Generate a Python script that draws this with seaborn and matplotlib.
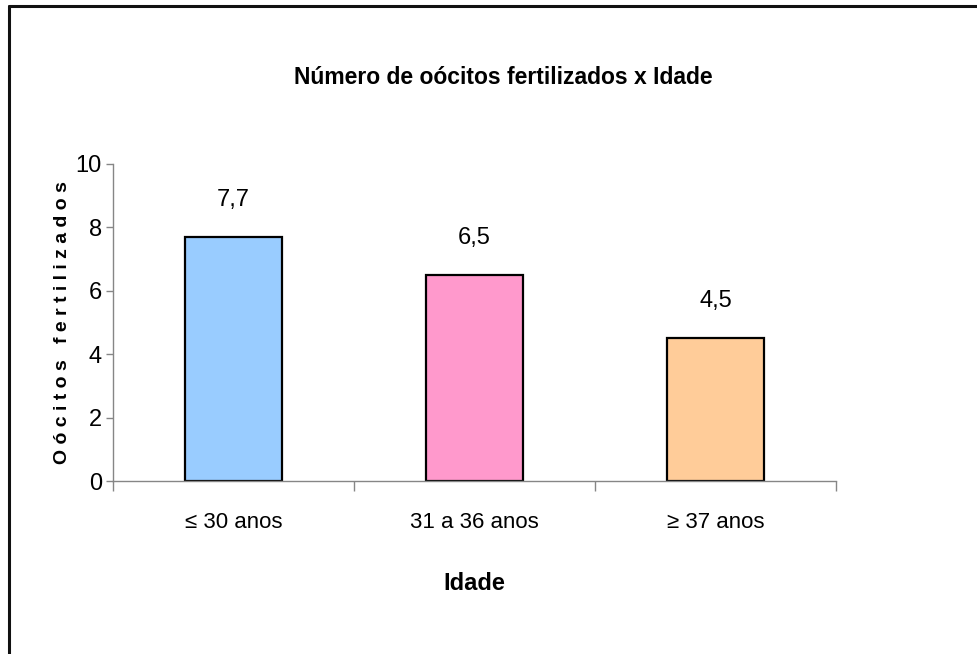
import matplotlib
matplotlib.use("Agg")
import matplotlib.pyplot as plt
from matplotlib.lines import Line2D
import seaborn as sns
import pandas as pd

categories = ["≤ 30 anos", "31 a 36 anos", "≥ 37 anos"]
values = [7.7, 6.5, 4.5]
value_labels = ["7,7", "6,5", "4,5"]
colors = ["#99CCFF", "#FF99CC", "#FFCC99"]
yticks = [0, 2, 4, 6, 8, 10]
title = "Número de oócitos fertilizados x Idade"
xlabel = "Idade"
ylabel = "O ó c i t o s   f e r t i l i z a d o s"

sns.set_theme(style="white")
FAM = ["Liberation Sans", "DejaVu Sans"]
plt.rcParams["font.family"] = FAM
plt.rcParams["text.color"] = "black"
plt.rcParams["axes.labelcolor"] = "black"
plt.rcParams["xtick.labelcolor"] = "black"
plt.rcParams["ytick.labelcolor"] = "black"

df = pd.DataFrame({"cat": categories, "val": values})

fig = plt.figure(figsize=(9.78, 6.54), dpi=100)
ax = fig.add_axes([113/978, 1-481/654, (836-113)/978, (481-164)/654])

sns.barplot(data=df, x="cat", y="val", hue="cat", palette=colors, legend=False,
            width=0.4, edgecolor="black", linewidth=1.6, ax=ax, saturation=1)

ax.set_xlim(-0.5, 2.5)
ax.set_ylim(0, 10)
ax.set_yticks(yticks)
ax.set_yticklabels([str(t) for t in yticks], fontsize=17)
ax.set_xticks(range(len(categories)))
ax.set_xticklabels(categories, fontsize=16)
ax.set_xticks([-0.5, 0.5, 1.5, 2.5], minor=True)
ax.tick_params(axis="x", which="major", length=0, pad=22)
ax.tick_params(axis="x", which="minor", length=7, width=1, color="#868686", direction="out", bottom=True)
ax.tick_params(axis="y", which="major", length=5, width=1, color="#868686", direction="out", left=True, pad=3)

for s in ["top", "right"]:
    ax.spines[s].set_visible(False)
for s in ["left", "bottom"]:
    ax.spines[s].set_color("#868686")
    ax.spines[s].set_linewidth(1.0)

for i, (v, lab) in enumerate(zip(values, value_labels)):
    ax.annotate(lab, (i, v), xytext=(0, 19), textcoords="offset points",
                ha="center", va="bottom", fontsize=17)

ax.set_xlabel(xlabel, fontsize=17, fontweight="bold", va="center")
ax.xaxis.set_label_coords(0.5, -(583-481)/(481-164))
ax.set_ylabel(ylabel, fontsize=14, fontweight="bold", va="center")
ax.yaxis.set_label_coords((63-113)/(836-113), 0.5)

fig.text(503/978, 1-78/654, title, ha="center", va="center", fontsize=16.5, fontweight="bold")

fig.add_artist(Line2D([9/978, 9/978], [0, 1-6/654], transform=fig.transFigure, color="#111111", lw=2.2))
fig.add_artist(Line2D([9/978, 1], [1-6/654, 1-6/654], transform=fig.transFigure, color="#111111", lw=2.2))

fig.savefig("out.png", dpi=100)
